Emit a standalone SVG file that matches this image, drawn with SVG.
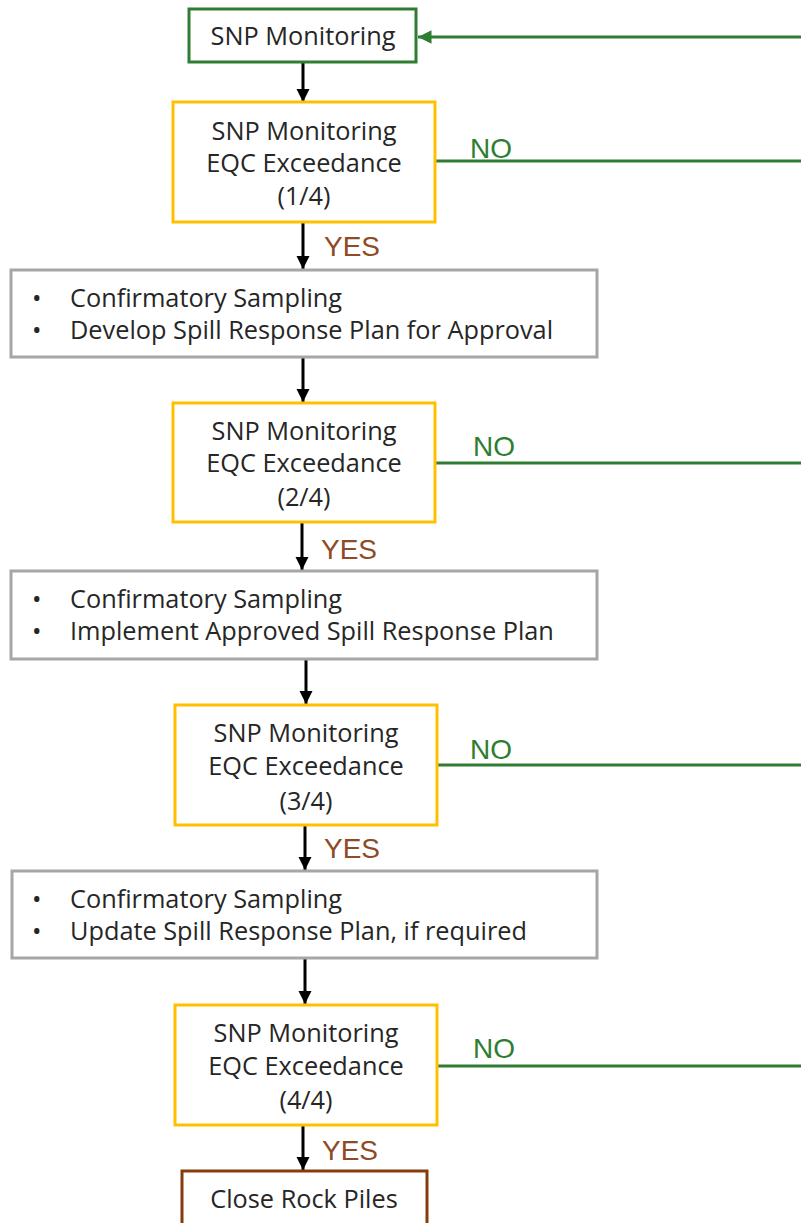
<svg xmlns="http://www.w3.org/2000/svg" width="801" height="1223" viewBox="0 0 801 1223">
<style>
text{font-family:"Open Sans","Liberation Sans",Arial,sans-serif;font-size:25.3px;fill:#262626}
.c{text-anchor:middle}
.dec{fill:#fff;stroke:#ffc000;stroke-width:3}
.act{fill:#fff;stroke:#a6a6a6;stroke-width:3}
.yes{fill:#8f4a26;font-family:"Liberation Sans",Arial,sans-serif;font-size:28px}
.no{fill:#2e7d32;font-family:"Liberation Sans",Arial,sans-serif;font-size:28px}
.k{stroke:#000;stroke-width:3;fill:none}
.g{stroke:#2e7d32;stroke-width:3;fill:none}
</style>
<defs>
<marker id="ak" viewBox="0 0 10 10" refX="10" refY="5" markerWidth="4.5" markerHeight="4.5" orient="auto" markerUnits="strokeWidth"><path d="M0,0L10,5L0,10z" fill="#000"/></marker>
<marker id="ag" viewBox="0 0 10 10" refX="10" refY="5" markerWidth="4.5" markerHeight="4.5" orient="auto" markerUnits="strokeWidth"><path d="M0,0L10,5L0,10z" fill="#2e7d32"/></marker>
</defs>
<g id="connectors">
<line class="k" x1="303" y1="62" x2="303" y2="102" marker-end="url(#ak)"/>
<line class="k" x1="303" y1="222" x2="303" y2="269" marker-end="url(#ak)"/>
<line class="k" x1="303" y1="357" x2="303" y2="402" marker-end="url(#ak)"/>
<line class="k" x1="302" y1="522" x2="302" y2="570" marker-end="url(#ak)"/>
<line class="k" x1="306" y1="659" x2="306" y2="704" marker-end="url(#ak)"/>
<line class="k" x1="305" y1="825" x2="305" y2="870" marker-end="url(#ak)"/>
<line class="k" x1="305" y1="958" x2="305" y2="1004" marker-end="url(#ak)"/>
<line class="k" x1="303" y1="1125" x2="303" y2="1170" marker-end="url(#ak)"/>
<line class="g" x1="801" y1="37" x2="418" y2="37" marker-end="url(#ag)"/>
<line class="g" x1="436" y1="161" x2="801" y2="161"/>
<line class="g" x1="436" y1="463" x2="801" y2="463"/>
<line class="g" x1="438" y1="765" x2="801" y2="765"/>
<line class="g" x1="438" y1="1066" x2="801" y2="1066"/>
<text class="no" x="470" y="158">NO</text>
<text class="no" x="473" y="456">NO</text>
<text class="no" x="470" y="759">NO</text>
<text class="no" x="473" y="1058">NO</text>
<text class="yes" x="324" y="256">YES</text>
<text class="yes" x="321" y="559">YES</text>
<text class="yes" x="324" y="858">YES</text>
<text class="yes" x="322" y="1160">YES</text>
</g>
<g id="start">
<rect x="189" y="9" width="227" height="53" fill="#fff" stroke="#2e7d32" stroke-width="3"/>
<text class="c" x="303" y="45">SNP Monitoring</text>
</g>
<g id="dec1">
<rect class="dec" x="173" y="102" width="262" height="120"/>
<text class="c" x="304" y="140">SNP Monitoring</text>
<text class="c" x="304" y="172">EQC Exceedance</text>
<text class="c" x="304" y="205">(1/4)</text>
</g>
<g id="act1">
<rect class="act" x="11" y="270" width="586" height="87"/>
<text x="32" y="307">•</text><text x="70" y="307">Confirmatory Sampling</text>
<text x="32" y="339">•</text><text x="70" y="339">Develop Spill Response Plan for Approval</text>
</g>
<g id="dec2">
<rect class="dec" x="173" y="403" width="262" height="119"/>
<text class="c" x="304" y="440">SNP Monitoring</text>
<text class="c" x="304" y="472">EQC Exceedance</text>
<text class="c" x="304" y="506">(2/4)</text>
</g>
<g id="act2">
<rect class="act" x="11" y="571" width="586" height="88"/>
<text x="32" y="608">•</text><text x="70" y="608">Confirmatory Sampling</text>
<text x="32" y="640">•</text><text x="70" y="640">Implement Approved Spill Response Plan</text>
</g>
<g id="dec3">
<rect class="dec" x="175" y="705" width="262" height="120"/>
<text class="c" x="306" y="742">SNP Monitoring</text>
<text class="c" x="306" y="775">EQC Exceedance</text>
<text class="c" x="306" y="810">(3/4)</text>
</g>
<g id="act3">
<rect class="act" x="12" y="871" width="585" height="87"/>
<text x="32" y="908">•</text><text x="70" y="908">Confirmatory Sampling</text>
<text x="32" y="940">•</text><text x="70" y="940">Update Spill Response Plan, if required</text>
</g>
<g id="dec4">
<rect class="dec" x="175" y="1005" width="262" height="120"/>
<text class="c" x="306" y="1042">SNP Monitoring</text>
<text class="c" x="306" y="1075">EQC Exceedance</text>
<text class="c" x="306" y="1109">(4/4)</text>
</g>
<g id="end">
<rect x="182" y="1171" width="245" height="70" fill="#fff" stroke="#843c0c" stroke-width="3"/>
<text class="c" x="304" y="1208">Close Rock Piles</text>
</g>
</svg>
